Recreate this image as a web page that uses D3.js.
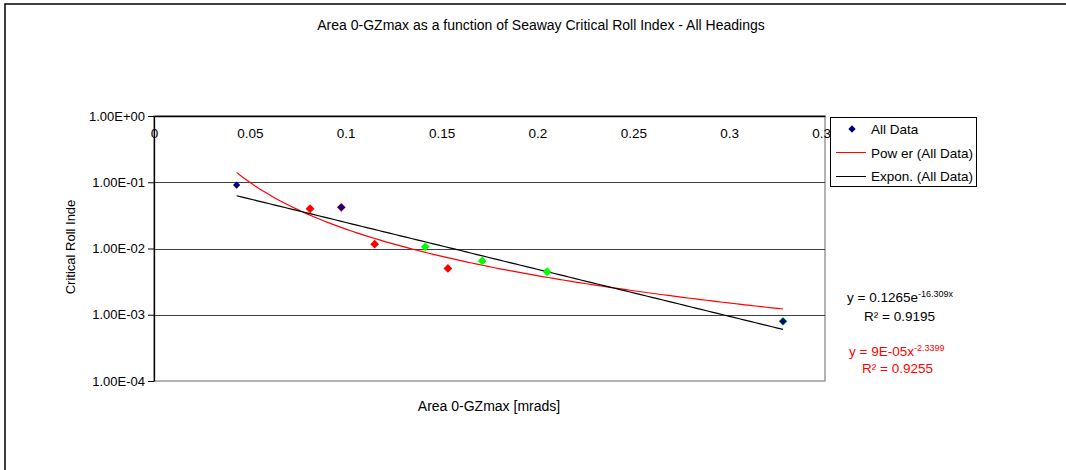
<!DOCTYPE html>
<html>
<head>
<meta charset="utf-8">
<script src="https://cdn.jsdelivr.net/npm/d3@7"></script>
<style>
  body { margin: 0; background: #fff; }
  svg text { font-family: "Liberation Sans", Arial, sans-serif; }
</style>
</head>
<body>
<div id="chart"></div>
<script>
// values
const allDataX = [0.0431, 0.0977, 0.3281];
const allDataY = [0.0906, 0.0418, 0.000796];
const redX = [0.0814, 0.0977, 0.1151, 0.1533];
const redY = [0.0398, 0.0418, 0.01164, 0.00501];
const greenX = [0.1415, 0.1712, 0.2050, 0.3281];
const greenY = [0.0106, 0.00649, 0.00446, 0.000796];
const xTicks = [0, 0.05, 0.1, 0.15, 0.2, 0.25, 0.3, 0.35];
const yTicks = [1, 0.1, 0.01, 0.001, 0.0001];
const yTickLabels = ["1.00E+00", "1.00E-01", "1.00E-02", "1.00E-03", "1.00E-04"];
// trendline coefficients as printed on the chart
const powerCoef = [9e-5, -2.3399];
const exponCoef = [0.1265, -16.309];
const trendRange = [0.0431, 0.3281];

const svgWidth = 1066, svgHeight = 470;
const plotLeft = 154, plotRight = 825, plotTop = 116, plotBottom = 381;

const svg = d3.select("#chart").append("svg")
    .attr("width", svgWidth)
    .attr("height", svgHeight);

// outer frame
svg.append("rect").attr("x", 5).attr("y", 4).attr("width", 1080).attr("height", 500)
    .attr("fill", "none").attr("stroke", "#000").attr("stroke-width", 1.5);

const x = d3.scaleLinear().domain([0, 0.35]).range([plotLeft, plotRight]);
const y = d3.scaleLog().domain([0.0001, 1]).range([plotBottom, plotTop]);

// plot area border
svg.append("rect").attr("x", plotLeft).attr("y", plotTop)
    .attr("width", plotRight - plotLeft).attr("height", plotBottom - plotTop)
    .attr("fill", "none").attr("stroke", "#808080").attr("stroke-width", 1.2);

// gridlines
svg.selectAll(".grid").data(yTicks.slice(1, 4)).enter().append("line")
    .attr("x1", plotLeft).attr("x2", plotRight)
    .attr("y1", d => Math.round(y(d)) + 0.5).attr("y2", d => Math.round(y(d)) + 0.5)
    .attr("stroke", "#404040").attr("stroke-width", 1);

// y axis
const yAxis = d3.axisLeft(y).tickValues(yTicks).tickSize(6).tickSizeOuter(0)
    .tickFormat((d, i) => yTickLabels[i]);
const gy = svg.append("g").attr("transform", "translate(" + plotLeft + ",0)").call(yAxis);
gy.select(".domain").attr("stroke", "#000").attr("stroke-width", 1.3);
gy.selectAll(".tick line").attr("stroke", "#000");
gy.selectAll(".tick text").attr("font-size", 13).attr("fill", "#000").attr("x", -9);

// x axis along top (crosses at 1.00E+00), labels below line
const xAxis = d3.axisBottom(x).tickValues(xTicks).tickSize(0).tickSizeOuter(0)
    .tickFormat(d => String(d));
const gx = svg.append("g").attr("transform", "translate(0," + plotTop + ")").call(xAxis);
gx.select(".domain").attr("stroke", "#000").attr("stroke-width", 1.3);
gx.selectAll(".tick text").attr("font-size", 13.5).attr("fill", "#000").attr("y", 12);

// trendlines
const samples = d3.range(0, 101).map(i => trendRange[0] + (trendRange[1] - trendRange[0]) * i / 100);
const line = d3.line().x(d => x(d[0])).y(d => y(d[1]));
svg.append("path")
    .datum(samples.map(v => [v, powerCoef[0] * Math.pow(v, powerCoef[1])]))
    .attr("d", line).attr("fill", "none").attr("stroke", "#ff0000").attr("stroke-width", 1.2);
svg.append("path")
    .datum(samples.map(v => [v, exponCoef[0] * Math.exp(exponCoef[1] * v)]))
    .attr("d", line).attr("fill", "none").attr("stroke", "#000").attr("stroke-width", 1.2);

// markers
const diamond = d3.symbol().type(d3.symbolDiamond2);
function drawPoints(xs, ys, color, size) {
    svg.selectAll(null).data(xs.map((v, i) => [v, ys[i]])).enter().append("path")
        .attr("d", diamond.size(size)())
        .attr("transform", d => "translate(" + x(d[0]) + "," + y(d[1]) + ")")
        .attr("fill", color);
}
drawPoints(redX, redY, "#ff0000", 50);
drawPoints(greenX, greenY, "#00ff00", 50);
drawPoints(allDataX, allDataY, "#000080", 34);

// title and axis titles
svg.append("text").attr("x", 541).attr("y", 30).attr("text-anchor", "middle")
    .attr("font-size", 14).text("Area 0-GZmax as a function of Seaway Critical Roll Index - All Headings");
svg.append("text").attr("x", 489).attr("y", 411).attr("text-anchor", "middle")
    .attr("font-size", 14).text("Area 0-GZmax [mrads]");
svg.append("text").attr("transform", "translate(75,247) rotate(-90)").attr("text-anchor", "middle")
    .attr("font-size", 13).text("Critical Roll Inde");

// legend
const lg = svg.append("g");
lg.append("rect").attr("x", 830.5).attr("y", 117.5).attr("width", 146).attr("height", 69)
    .attr("fill", "#fff").attr("stroke", "#000").attr("stroke-width", 1);
lg.append("path").attr("d", diamond.size(34)()).attr("transform", "translate(852,129)").attr("fill", "#000080");
lg.append("line").attr("x1", 836).attr("x2", 866).attr("y1", 152.5).attr("y2", 152.5).attr("stroke", "#ff0000");
lg.append("line").attr("x1", 836).attr("x2", 866).attr("y1", 176.5).attr("y2", 176.5).attr("stroke", "#000");
const legendTexts = ["All Data", "Pow er (All Data)", "Expon. (All Data)"];
lg.selectAll(null).data(legendTexts).enter().append("text")
    .attr("x", 871).attr("y", (d, i) => 134 + i * 23.5).attr("font-size", 13.5).text(d => d);

// trendline equations
function equation(xp, yp, color, base, exp) {
    const t = svg.append("text").attr("x", xp).attr("y", yp).attr("font-size", 13.5).attr("fill", color);
    t.append("tspan").text(base);
    t.append("tspan").attr("dy", -5).attr("font-size", 9).text(exp);
}
equation(847, 302, "#000", "y = 0.1265e", "-16.309x");
svg.append("text").attr("x", 864).attr("y", 321).attr("font-size", 13.5).text("R\u00b2 = 0.9195");
equation(849, 356, "#ff0000", "y = 9E-05x", "-2.3399");
svg.append("text").attr("x", 862).attr("y", 373).attr("font-size", 13.5).attr("fill", "#ff0000").text("R\u00b2 = 0.9255");
</script>
</body>
</html>
